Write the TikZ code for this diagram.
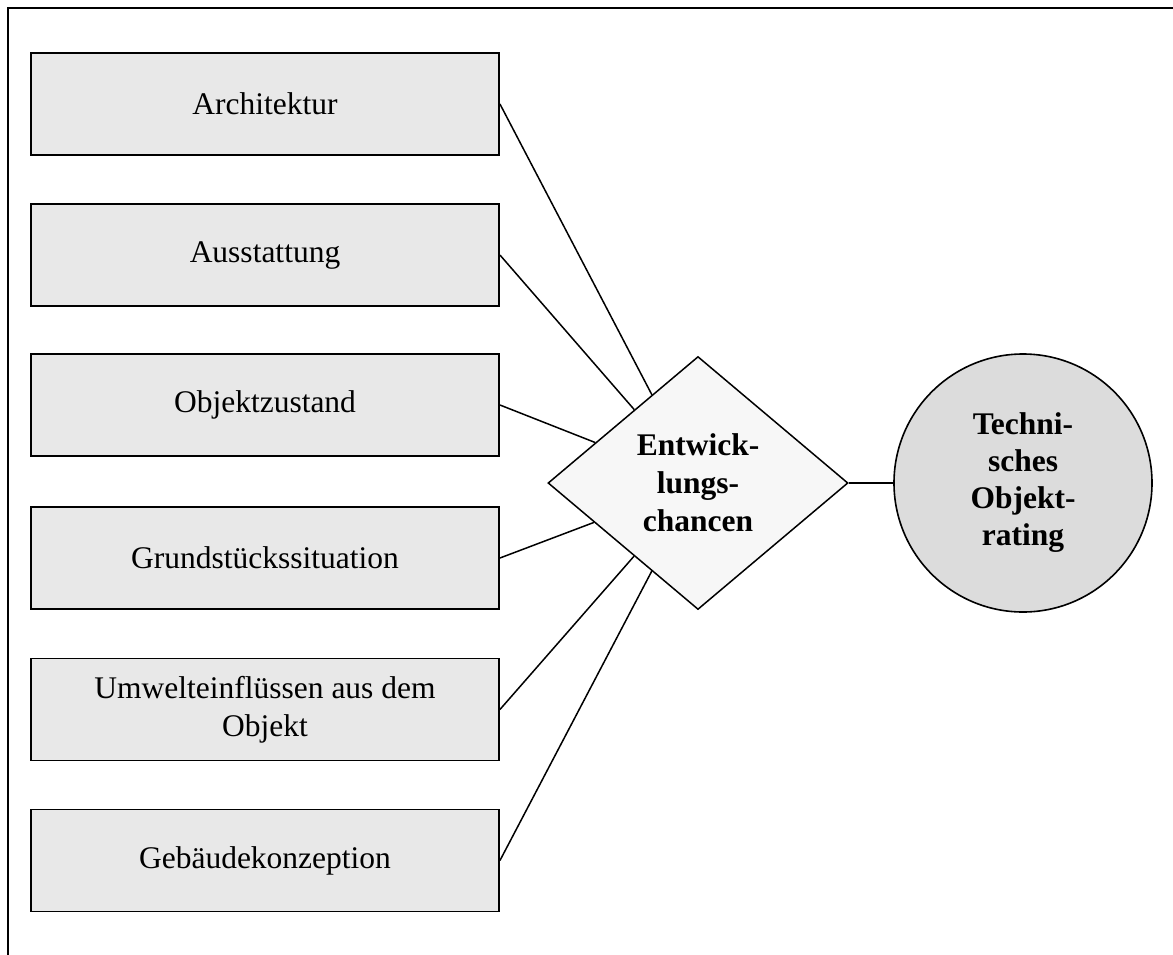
\documentclass[tikz,border=0pt]{standalone}
\usepackage{fontspec}
\setmainfont{Liberation Serif}
\usetikzlibrary{shapes.geometric}
\definecolor{boxfill}{HTML}{E8E8E8}
\definecolor{diafill}{HTML}{F7F7F7}
\definecolor{circfill}{HTML}{DCDCDC}
\begin{document}
\begin{tikzpicture}[x=1pt,y=-1pt,
  factor/.style={draw=black, line width=1.9pt, fill=boxfill, rectangle,
    minimum width=468pt, minimum height=102pt, inner sep=0pt, align=center,
    font=\fontsize{31.5pt}{38pt}\selectfont},
  hub/.style={draw=black, line width=1.5pt, fill=diafill, diamond,
    minimum width=300pt, minimum height=253pt, inner sep=0pt, align=center,
    font=\fontsize{31.5pt}{38pt}\selectfont\bfseries},
  result/.style={draw=black, line width=1.6pt, fill=circfill, circle,
    minimum size=258pt, inner sep=0pt, align=center,
    font=\fontsize{31.5pt}{37pt}\selectfont\bfseries},
  link/.style={draw=black, line width=1.5pt}]
\useasboundingbox (0,0) rectangle (1173,954);
% open frame: top and left edge
\draw[line width=2pt] (7.5,960) -- (7.5,7.5) -- (1180,7.5);

\node[factor] (f1) at (265,104) {Architektur};
\node[factor] (f2) at (265,255) {Ausstattung};
\node[factor] (f3) at (265,405) {Objektzustand};
\node[factor] (f4) at (265,558) {Grundstückssituation};
\node[factor] (f5) at (265,709.5) {Umwelteinflüssen aus dem\\Objekt};
\node[factor] (f6) at (265,860.5) {Gebäudekonzeption};

\node[hub] (ec) at (698,483) {Entwick-\\lungs-\\chancen};
\node[result] (tr) at (1023,483) {Techni-\\sches\\Objekt-\\rating};

\foreach \f in {f1,f2,f3,f4,f5,f6}
  \draw[link] (\f.east) -- (ec);
\draw[link] (ec) -- (tr);
\end{tikzpicture}
\end{document}
